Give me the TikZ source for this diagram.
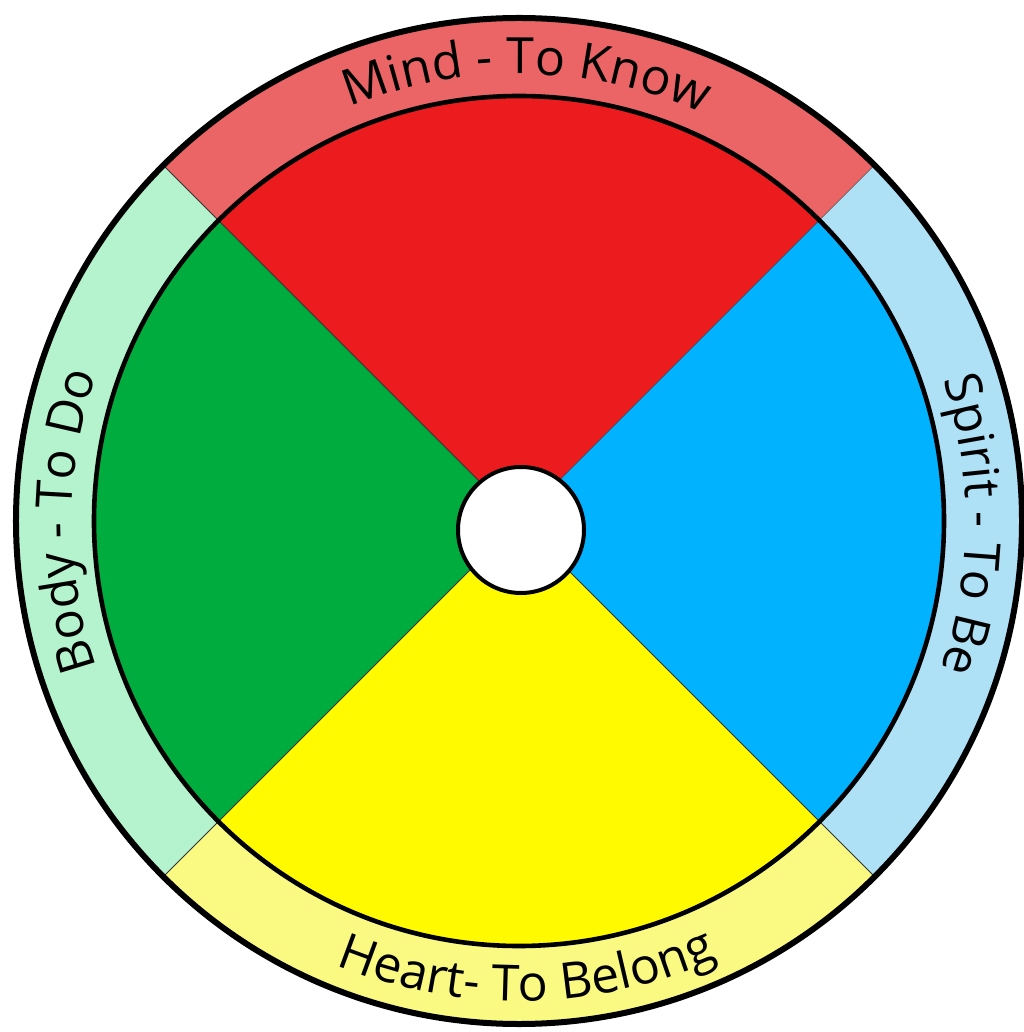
\documentclass[tikz,border=0pt]{standalone}
\usepackage{fontspec}
\setmainfont{Open Sans}
\usetikzlibrary{decorations.text}
\definecolor{redring}{RGB}{235,100,102}
\definecolor{redwedge}{RGB}{236,28,30}
\definecolor{greenring}{RGB}{180,243,205}
\definecolor{greenwedge}{RGB}{0,172,62}
\definecolor{yellowring}{RGB}{250,249,130}
\definecolor{yellowwedge}{RGB}{255,250,0}
\definecolor{bluering}{RGB}{174,224,246}
\definecolor{bluewedge}{RGB}{0,178,255}
\tikzset{
  sep/.style={draw=black!80,line width=.5pt},
  rim/.style={draw=black,line width=#1},
  hubdisc/.style={circle,draw=black,line width=2pt,fill=white,inner sep=0pt,minimum size=63pt},
  lbl/.style={decorate,decoration={text along path,text align=center,text={|\fontsize{25}{25}\selectfont|#1}}}
}
\begin{document}
\begin{tikzpicture}[x=.5pt,y=.5pt]
  \useasboundingbox (-519,-511) rectangle (504,521);
  \coordinate (hub) at (0,0);
  % wedges, ring segments and the diagonals between them
  \foreach \a/\rc/\wc in {45/redring/redwedge,135/greenring/greenwedge,225/yellowring/yellowwedge,315/bluering/bluewedge}{
    \fill[\wc] (hub) -- (\a:425) arc[start angle=\a,end angle=\a+90,radius=425] -- cycle;
    \fill[\rc] (\a:425) arc[start angle=\a,end angle=\a+90,radius=425] -- (\a+90:503) arc[start angle=\a+90,end angle=\a,radius=503] -- cycle;
    \draw[sep] (hub) -- (\a:503);
  }
  \draw[rim=2.3pt] (hub) circle[radius=425];
  \draw[rim=3pt] (hub) circle[radius=503];
  \node[hubdisc] (core) at (2,-9) {};

  \path[lbl=Mind - To Know] (134:447) arc[start angle=134,end angle=44,radius=447];
  \path[lbl=Spirit - To Be] (45.5:447) arc[start angle=45.5,end angle=-46.5,radius=447];
  \path[lbl=Body - To Do] (226:447) arc[start angle=226,end angle=134,radius=447];
  \path[lbl=Heart- To Belong] (224.5:480) arc[start angle=224.5,end angle=317.5,radius=480];
\end{tikzpicture}
\end{document}
